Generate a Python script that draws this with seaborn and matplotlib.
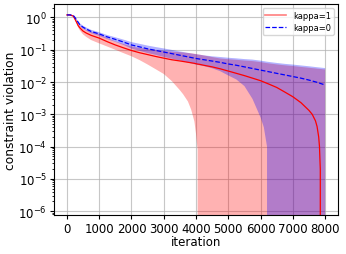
import numpy as np
import pandas as pd
import matplotlib
matplotlib.use("Agg")
import matplotlib.pyplot as plt
import seaborn as sns
from matplotlib.lines import Line2D
from matplotlib.ticker import LogLocator, NullFormatter

# kappa=1 (red)
k1_iter = [0, 100, 200, 250, 300, 350, 400, 500, 600, 750,
           1000, 1250, 1500, 1750, 2000, 2250, 2500, 2750, 3000, 3250,
           3500, 3600, 3750, 3850, 3950, 4000, 4050, 4100, 4250, 4500,
           4750, 5000, 5250, 5500, 5750, 6000, 6250, 6500, 6750, 7000,
           7250, 7500, 7600, 7700, 7750, 7800, 7825, 7850, 7875, 8000]
k1_mean = [1.2, 1.2, 1.1, 0.89, 0.71, 0.56, 0.48, 0.38, 0.33, 0.28,
           0.23, 0.178, 0.141, 0.115, 0.095, 0.081, 0.071, 0.062, 0.055, 0.049,
           0.045, 0.0434, 0.041, 0.0395, 0.038, 0.037, 0.036, 0.0355, 0.033, 0.0295,
           0.0257, 0.0219, 0.0186, 0.0158, 0.0132, 0.011, 0.0087, 0.0068, 0.0049, 0.0035,
           0.0023, 0.00132, 0.001, 0.00063, 0.00042, 0.0002, 0.0001, 0.00002, 0.0, 0.0]
k1_std = [0.03, 0.03, 0.04, 0.05, 0.06, 0.07, 0.08, 0.08, 0.08, 0.08,
          0.072, 0.052, 0.041, 0.036, 0.032, 0.033, 0.036, 0.037, 0.0372, 0.0383,
          0.0394, 0.0392, 0.0385, 0.0381, 0.0374, 0.03675, 0.03592, 0.0357, 0.0335, 0.030,
          0.028, 0.0291, 0.0302, 0.0305, 0.0314, 0.0304, 0.0292, 0.0284, 0.0281, 0.0278,
          0.0271, 0.0264, 0.026, 0.0258, 0.0256, 0.0255, 0.0255, 0.0254, 0.0253, 0.0244]

# kappa=0 (blue)
k0_iter = [0, 100, 200, 250, 300, 350, 400, 500, 600, 750,
           1000, 1250, 1500, 1750, 2000, 2250, 2500, 2750, 3000, 3250,
           3500, 3750, 4000, 4250, 4500, 4750, 5000, 5250, 5500, 5750,
           6000, 6100, 6200, 6250, 6500, 6750, 7000, 7250, 7500, 7750, 8000]
k0_mean = [1.2, 1.2, 1.15, 1.0, 0.83, 0.71, 0.6, 0.5, 0.44, 0.37,
           0.31, 0.25, 0.21, 0.174, 0.141, 0.123, 0.107, 0.0955, 0.085, 0.076,
           0.0676, 0.0603, 0.0537, 0.049, 0.0447, 0.0407, 0.0363, 0.0331, 0.0295, 0.0263,
           0.0234, 0.0224, 0.0214, 0.0209, 0.0186, 0.0166, 0.0148, 0.0132, 0.0115, 0.0098, 0.0081]
k0_std = [0.03, 0.03, 0.04, 0.05, 0.06, 0.06, 0.06, 0.055, 0.05, 0.045,
          0.04, 0.036, 0.034, 0.033, 0.032, 0.03, 0.028, 0.026, 0.025, 0.023,
          0.021, 0.02, 0.019, 0.018, 0.018, 0.019, 0.0203, 0.0211, 0.022, 0.0233,
          0.0226, 0.022, 0.0213, 0.0212, 0.0205, 0.02, 0.02, 0.0195, 0.0193, 0.019, 0.019]

labels = ["kappa=1", "kappa=0"]
colors = ["red", "blue"]
styles = ["-", "--"]
x_ticks = [0, 1000, 2000, 3000, 4000, 5000, 6000, 7000, 8000]
y_ticks = [1e-6, 1e-5, 1e-4, 1e-3, 1e-2, 1e-1, 1e0]

frames = []
for lab, it, m, s in [(labels[0], k1_iter, k1_mean, k1_std), (labels[1], k0_iter, k0_mean, k0_std)]:
    d = pd.DataFrame({"iteration": it, "mean": m, "std": s})
    d["run"] = lab
    frames.append(d)
df = pd.concat(frames, ignore_index=True)
df["lower"] = df["mean"] - df["std"]
df["upper"] = df["mean"] + df["std"]

fig = plt.figure(figsize=(3.46, 2.55), dpi=100)
ax = fig.add_axes([0.156, 0.153, 0.821, 0.827])

for lab, c in zip(labels, colors):
    d = df[df["run"] == lab]
    ax.fill_between(d["iteration"], d["lower"], d["upper"], color=c, alpha=0.3, linewidth=0)
for lab, c, ls in zip(labels, colors, styles):
    d = df[df["run"] == lab]
    sns.lineplot(data=d, x="iteration", y="mean", ax=ax, color=c,
                 linestyle=ls, linewidth=0.9, legend=False)

ax.set_yscale("log", nonpositive="clip")
ax.set_xlim(-400, 8400)
ax.set_ylim(7.6e-7, 2.6)
ax.set_yticks(y_ticks)
ax.yaxis.set_minor_locator(LogLocator(base=10, subs=np.arange(2, 10), numticks=20))
ax.yaxis.set_minor_formatter(NullFormatter())
ax.grid(True, color="#b0b0b0", linewidth=0.8, alpha=0.7)
ax.set_axisbelow(True)
ax.set_xticks(x_ticks)
ax.tick_params(labelsize=8.5, length=3, pad=2)
ax.tick_params(which="minor", length=1.8)
ax.set_xlabel("iteration", fontsize=8.5, labelpad=0)
ax.set_ylabel("constraint violation", fontsize=8.8, labelpad=1)

handles = [Line2D([], [], color="red", alpha=0.5, linewidth=1.2, linestyle="-"),
           Line2D([], [], color="blue", linewidth=0.9, linestyle="--")]
ax.legend(handles, labels, loc="upper right", fontsize=6, handlelength=2.5,
          framealpha=0.8, labelspacing=0.3, borderpad=0.35)

fig.savefig("out.png", dpi=100)
